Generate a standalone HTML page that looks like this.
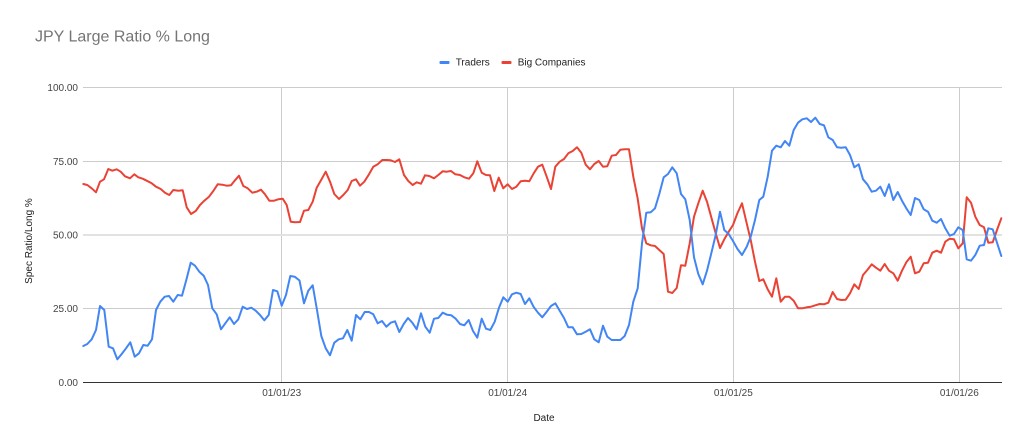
<!DOCTYPE html>
<html>
<head>
<meta charset="utf-8">
<style>
  html, body { margin: 0; padding: 0; background: #ffffff; }
  svg { display: block; }
  text { font-family: "Liberation Sans", Arial, sans-serif; }
</style>
</head>
<body>
<svg width="1024" height="446" viewBox="0 0 1024 446" xmlns="http://www.w3.org/2000/svg">
  <rect x="0" y="0" width="1024" height="446" fill="#ffffff"/>

  <!-- Title -->
  <text x="35" y="41.5" font-size="16" fill="#757575">JPY Large Ratio % Long</text>

  <!-- Legend -->
  <rect x="439.5" y="61" width="10" height="3" rx="1" fill="#4285F4"/>
  <text x="455.7" y="65.5" font-size="10" fill="#222222">Traders</text>
  <rect x="501.5" y="61" width="10" height="3" rx="1" fill="#EA4335"/>
  <text x="517.7" y="65.5" font-size="10" fill="#222222">Big Companies</text>

  <!-- Horizontal gridlines -->
  <g stroke="#cccccc" stroke-width="1" shape-rendering="crispEdges">
    <line x1="83" y1="87.5" x2="1002" y2="87.5"/>
    <line x1="83" y1="161.5" x2="1002" y2="161.5"/>
    <line x1="83" y1="308.5" x2="1002" y2="308.5"/>
    <!-- Vertical gridlines -->
    <line x1="281.5" y1="87" x2="281.5" y2="382"/>
    <line x1="507.5" y1="87" x2="507.5" y2="382"/>
    <line x1="733.5" y1="87" x2="733.5" y2="382"/>
    <line x1="959.5" y1="87" x2="959.5" y2="382"/>
  </g>
  <line x1="83" y1="235" x2="1002" y2="235" stroke="#e2e2e2" stroke-width="2" shape-rendering="crispEdges"/>
  <line x1="83" y1="382.5" x2="1002" y2="382.5" stroke="#333333" stroke-width="1" shape-rendering="crispEdges"/>

  <!-- Y axis labels -->
  <g font-size="10" fill="#444444" text-anchor="end">
    <text x="78" y="91">100.00</text>
    <text x="78" y="165">75.00</text>
    <text x="78" y="238.5">50.00</text>
    <text x="78" y="312">25.00</text>
    <text x="78" y="386">0.00</text>
  </g>

  <!-- X axis labels -->
  <g font-size="10" fill="#444444" text-anchor="middle">
    <text x="281.7" y="396">01/01/23</text>
    <text x="507.7" y="396">01/01/24</text>
    <text x="733.3" y="396">01/01/25</text>
    <text x="959.3" y="396">01/01/26</text>
  </g>

  <!-- Axis titles -->
  <text x="544" y="421" font-size="10" fill="#222222" text-anchor="middle">Date</text>
  <text transform="translate(31.8,241) rotate(-90)" font-size="10" fill="#222222" text-anchor="middle">Spec Ratio/Long %</text>

  <!-- Big Companies (red) -->
  <polyline fill="none" stroke="#EA4335" stroke-width="2" stroke-linejoin="round" stroke-linecap="round"
    points="83.3,184 87.3,185 91.7,188.3 96,192.3 100,181.7 104,179.3 108.3,169 112.3,170.7 116.7,169.3 120.7,171.7 125,176.3 130,178.3 134.3,174.3 138.3,177.3 142.7,178.7 146.7,180.7 151.7,183.3 156,186.7 160.7,189 165,192.7 169.3,195 173.3,190 178.3,190.7 182.7,190.3 186.7,207.3 191,214 195.7,211 200,205 204.3,200.7 209,196.7 213.3,191 217.7,184.3 222.3,184.7 226.7,185.7 231,185.3 235,180.3 239,175.7 243.3,186 247.7,188.3 252.3,192.7 256.7,191.7 261,189.7 265,194.3 269.3,200.7 274,200.7 278.3,199.3 282.7,198.7 286.7,205 290.7,221.7 295,222.3 300,222 304,210.7 308.3,210 312.7,201.7 316.7,187.7 321.7,179 325.7,171.7 330,181.7 334.3,194 339,199 343.3,195 347.7,190 351.7,181 356,179.3 360,185.7 364.3,181.7 369,174.3 373.3,166.7 377.7,164.3 382.3,160 386.7,160 390.7,160.3 395,162 399.3,159.3 404,175 408.3,181 412.7,185 416.7,182.3 421,183.7 425,175.3 429.3,176 434,178.3 438.3,175 442.7,171.3 446.7,171.7 451,171 455.3,174.3 460,175 464.3,177.3 469,178.7 473.3,173.3 477.3,161.3 481.7,172.7 486,175 490,175.3 494.3,191 498.7,177.7 503.3,188.3 507.7,184.3 512,189 516.3,186.7 520.7,181.3 525,180.7 529.3,181.3 533.7,173.3 538,166.7 542.3,164.7 546.7,176.7 551,189 555.3,166.7 559.7,161.7 564,159 568.3,153.3 572.7,151 577,147.3 581.3,152.7 585.7,164.7 590,169.3 594.3,164 598.7,161 603,166.7 607.3,166.3 611.7,155.7 616,155 620.3,149.7 624.7,149.3 629,149.3 633.3,176.7 637.7,198.7 642,228.3 646.3,243.3 650.7,245.3 655,246 659.3,250 663.7,254 668,291.7 672.3,293 676.7,288 681,265.3 685.3,265.7 689.7,243.3 694,216.7 698.3,203.3 702.7,190.7 707,201.7 711.3,217.3 715.7,233.3 720,248 724.3,239.3 728.7,231.7 733,225 737.5,213 742,203.3 746.7,223.3 750.7,240 755,261.7 759.3,281 763.3,279.3 767.7,289.3 772,296.7 776.3,278.3 780.7,301.7 785,296.7 789.3,296.7 793.7,300.7 798,308.3 802.3,308.3 806.7,307.3 811,306.7 815.3,305.3 819.7,304 824,304.3 828.3,302.7 832.7,292 837,299 841.3,300 845.7,299.7 850,293.3 854.3,284.3 858.7,289 863,275 867.3,270 871.7,264.3 876,267.7 880.3,270.7 884.7,264 889,270.7 893.3,273.3 897.7,280.7 902,270.7 906.3,262.3 910.7,256.7 915,273.3 919.3,271.7 923.7,263.3 928,262.7 932.3,252.7 936.7,250.7 941,252.7 945.3,241.7 949.7,238.7 954,239.3 958.3,248.3 962.7,243.3 966.7,197.3 971,202.7 975.3,216.7 979.7,225 984,227.3 988.3,242.7 992.7,242.3 997,230 1001.3,218.3"/>

  <!-- Traders (blue) -->
  <polyline fill="none" stroke="#4285F4" stroke-width="2" stroke-linejoin="round" stroke-linecap="round"
    points="83.3,346 87.3,344 91.7,339.3 96,330 100,306 104.3,310 108.7,346.7 113,348.3 117.3,359.3 121.7,354 126,348.3 130.3,342.3 134.7,356.7 139,353.3 143.3,345 147.7,345.7 152,339.3 156,310 160.3,301.7 164.7,296.7 169,296 173.3,301.7 177.7,295 182,295.7 186.3,280 190.7,262.7 195,265.7 199.3,271.7 203.7,275.7 208,285 212.3,308.3 216.7,314.3 221,329.3 225.3,323.3 229.7,317.3 234,324 238.3,319.3 242.7,306.7 247,309 251.3,307.7 255.7,310.7 260,315 264.3,320.3 268.7,315 273,290 277.3,291.3 281.7,305.7 286,295 290.3,276 294.7,276.7 299.5,280.5 304,303.3 308.3,290.7 312.7,285.3 317,310 321.3,336 325.7,348.3 330,355.3 334.3,342.7 338.7,339.3 343,338.3 347.3,330 351.7,340.7 356,315 360.3,319.3 364.7,312 369,312 373.3,314.3 377.7,323.3 382,321 386.3,326.7 390.7,322.7 395,321.3 399.3,332 403.7,324 408,318 412.3,322.7 416.7,329.3 421,313.3 425.3,326.7 429.7,332.7 434,318.7 438.3,318 442.7,312.7 447,314.7 451.3,315.3 455.7,318.7 460,324 464.3,325.3 468.7,320 473,331 477.3,337.7 481.7,318.7 486,328.7 490.3,330 494.7,321.7 499,307.7 503.3,297.3 507.7,301.7 512,294.3 516.3,292.7 520.7,294 525,304 529.3,298.3 533.7,307 538,312.7 542.3,317.3 546.7,311.7 551,306 555.3,303.3 559.7,310.7 564,318 568.3,327.3 572.7,327.3 577,334.3 581.3,334 585.7,331.7 590,329.3 594.3,339.3 598.7,342.3 603,325.7 607.3,336.7 611.7,340 616,340 620.3,340 624.7,336 629,325 633.3,301.7 637.7,288.3 642,243.3 646.3,212.7 650.7,212.3 655,208.3 659.3,194 663.7,177.3 668,174 672.3,167.3 676.7,173.3 681,194 685.3,199.3 689.7,220 694,257.3 698.3,274 702.7,284.3 707,270.7 711.3,253.3 715.7,235 720,211.7 724.3,230 728.7,234 733,241 737.5,249 742,255 746.7,246.7 750.7,236.7 755,220 759.3,200 763.3,196.7 767.7,176.7 772,150.7 776.3,145.7 780.7,147.3 785,141 789.3,145.7 793.7,130 798,122.7 802.3,119.3 806.7,118.3 811,122 815.3,117.7 819.7,124 824,125.3 828.3,137.3 832.7,140 837,147.3 841.3,147.7 845.7,147.3 850,155 854.3,167.3 858.7,164.3 863,179.3 867.3,184.3 871.7,191.7 876,190.7 880.3,186.7 884.7,196 889,184.3 893.3,200 897.7,192 902,200.7 906.3,208.3 910.7,215 915,198 919.3,200 923.7,209.3 928,211.7 932.3,220.7 936.7,222.7 941,219 945.3,228.3 949.7,235.7 954,234 958.3,227.3 962.7,230 966.7,259.3 971,260.7 975.3,255 979.7,245.7 984,245 988.3,228.3 992.7,229.3 997,242.7 1001.3,256"/>
</svg>
</body>
</html>
